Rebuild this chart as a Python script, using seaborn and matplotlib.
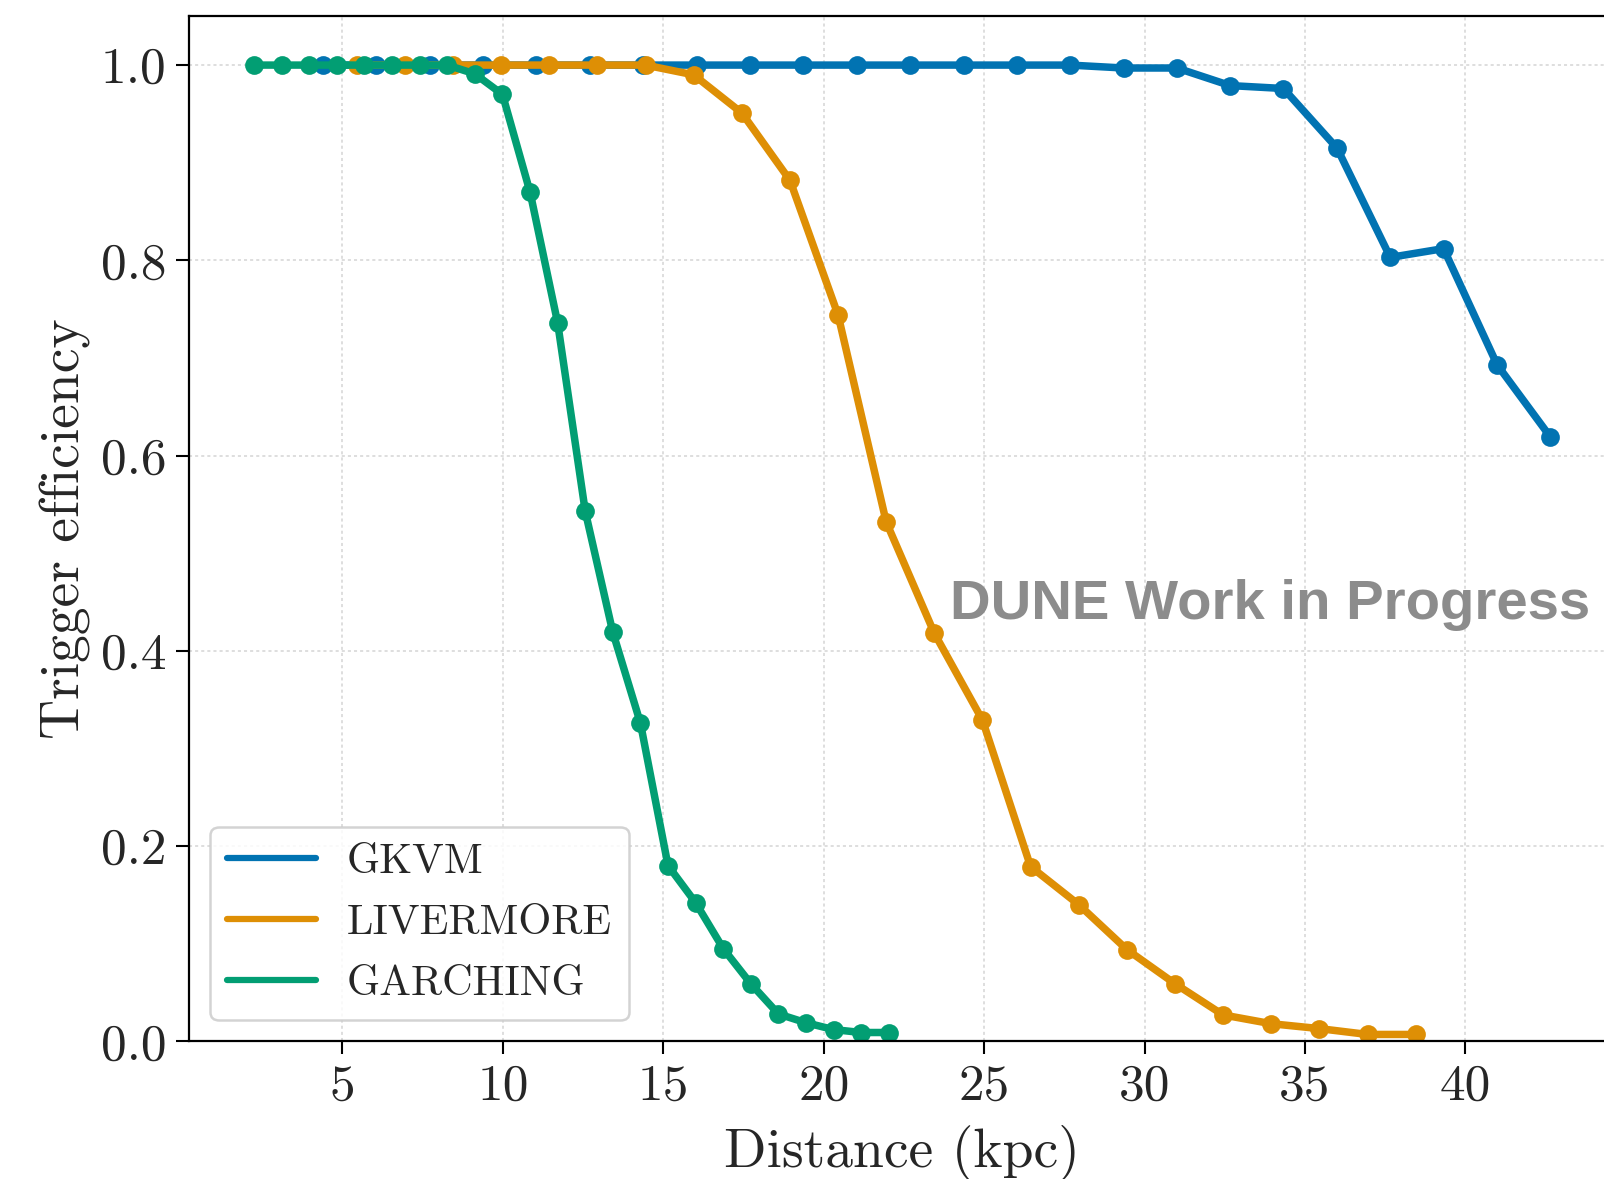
import numpy as np
import pandas as pd
import matplotlib
matplotlib.use("Agg")
import matplotlib.pyplot as plt
from matplotlib.lines import Line2D
import seaborn as sns

# ---------------- data ----------------
models = ["GKVM", "LIVERMORE", "GARCHING"]

gkvm_distance = [4.40, 6.06, 7.73, 9.39, 11.05, 12.72, 14.38, 16.04, 17.70, 19.37,
                 21.03, 22.69, 24.36, 26.02, 27.68, 29.35, 31.01, 32.67, 34.33, 36.00,
                 37.66, 39.32, 40.99, 42.65]
gkvm_eff = [1.0, 1.0, 1.0, 1.0, 1.0, 1.0, 1.0, 1.0, 1.0, 1.0,
            1.0, 1.0, 1.0, 1.0, 1.0, 0.997, 0.997, 0.979, 0.976, 0.915,
            0.803, 0.812, 0.693, 0.619]

livermore_distance = [5.45, 6.95, 8.45, 9.95, 11.45, 12.95, 14.45, 15.95, 17.45, 18.95,
                      20.45, 21.95, 23.45, 24.95, 26.45, 27.95, 29.45, 30.95, 32.45, 33.95,
                      35.45, 36.95, 38.45]
livermore_eff = [1.0, 1.0, 1.0, 1.0, 1.0, 1.0, 1.0, 0.990, 0.951, 0.882,
                 0.744, 0.532, 0.418, 0.329, 0.179, 0.140, 0.094, 0.059, 0.027, 0.018,
                 0.013, 0.007, 0.007]

garching_distance = [2.25, 3.11, 3.97, 4.83, 5.69, 6.55, 7.41, 8.27, 9.13, 9.99,
                     10.85, 11.71, 12.57, 13.43, 14.29, 15.15, 16.01, 16.87, 17.73, 18.59,
                     19.45, 20.31, 21.17, 22.03]
garching_eff = [1.0, 1.0, 1.0, 1.0, 1.0, 1.0, 1.0, 1.0, 0.991, 0.970,
                0.870, 0.736, 0.543, 0.419, 0.326, 0.180, 0.142, 0.095, 0.059, 0.028,
                0.019, 0.012, 0.009, 0.009]

x_ticks = [5, 10, 15, 20, 25, 30, 35, 40]
y_ticks = [0.0, 0.2, 0.4, 0.6, 0.8, 1.0]

# ---------------- style ----------------
sns.set_style("ticks")
plt.rcParams["font.family"] = ["cmr10", "DejaVu Serif"]
plt.rcParams["mathtext.fontset"] = "cm"
plt.rcParams["axes.formatter.use_mathtext"] = True

palette = sns.color_palette("colorblind", 3)
colors = dict(zip(models, palette))

frames = []
for name, d, e in [("GKVM", gkvm_distance, gkvm_eff),
                   ("LIVERMORE", livermore_distance, livermore_eff),
                   ("GARCHING", garching_distance, garching_eff)]:
    frames.append(pd.DataFrame({"distance": d, "efficiency": e, "model": name}))
df = pd.concat(frames, ignore_index=True)

fig = plt.figure(figsize=(16.04, 11.79), dpi=100)
ax = fig.add_axes([0.118, 0.1168, 0.889, 0.8694])

sns.lineplot(data=df, x="distance", y="efficiency", hue="model", hue_order=models,
             palette=colors, marker="o", markersize=13.5, markeredgewidth=0,
             linewidth=5.4, estimator=None, sort=False, legend=False, ax=ax)

ax.set_xlim(0.23, 44.67)
ax.set_ylim(0.0, 1.05)
ax.set_xticks(x_ticks)
ax.set_yticks(y_ticks)
ax.set_xticklabels([str(t) for t in x_ticks])
ax.set_yticklabels([f"{t:.1f}" for t in y_ticks])

ax.grid(True, color="#d4d4d4", linestyle=(0, (2, 2)), linewidth=1.1)
ax.set_axisbelow(True)
for s in ax.spines.values():
    s.set_color("black")
    s.set_linewidth(1.6)

ax.tick_params(axis="both", which="major", direction="out", length=9.5, width=1.5,
               labelsize=37, pad=7, color="black")

ax.set_xlabel("Distance (kpc)", fontsize=40, labelpad=11)
ax.set_ylabel("Trigger efficiency", fontsize=40, labelpad=7)

ax.text(23.95, 0.433, "DUNE Work in Progress", fontsize=40.5, fontweight="bold",
        color="#8c8c8c", family=["Liberation Sans", "DejaVu Sans"],
        va="baseline", ha="left")

handles = [Line2D([0], [0], color=colors[m], linewidth=4.5, solid_capstyle="round")
           for m in models]
leg = ax.legend(handles, models, loc="lower left", fontsize=30.5, handlelength=2.1,
                handletextpad=0.72, labelspacing=0.55, borderaxespad=0.5,
                borderpad=0.4, frameon=True, fancybox=True, framealpha=0.85)
leg.get_frame().set_edgecolor("#cccccc")
leg.get_frame().set_linewidth(1.8)

fig.savefig("out.png", dpi=100)
